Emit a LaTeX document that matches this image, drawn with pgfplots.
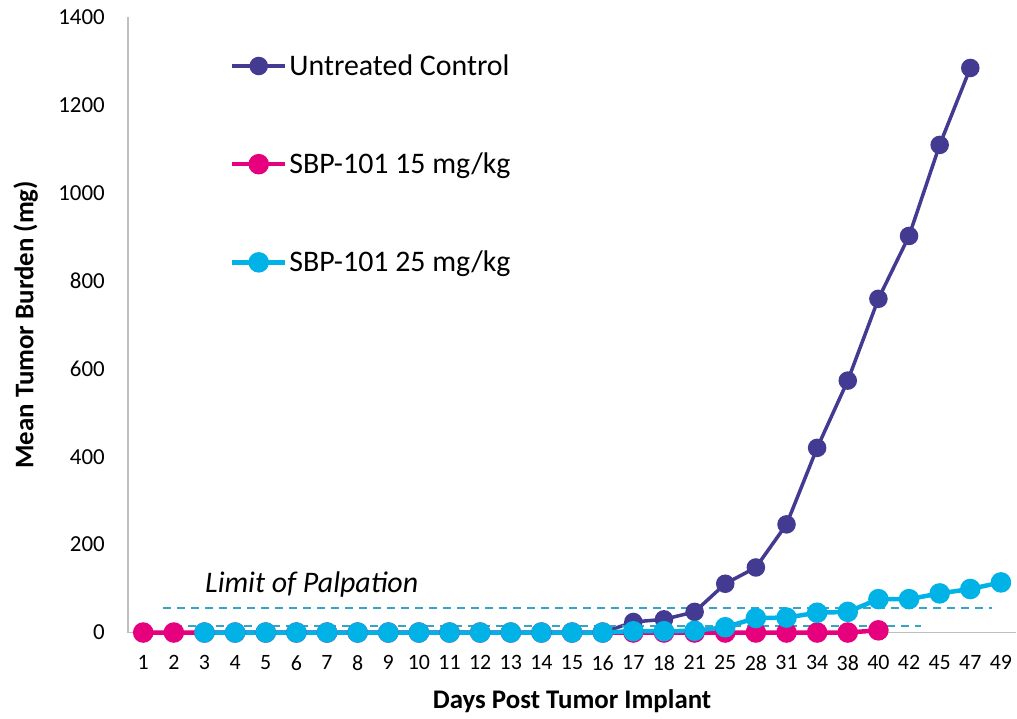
\documentclass[border=0pt]{standalone}
\usepackage{pgfplots}
\pgfplotsset{compat=1.18}
\usepackage{fontspec}
\setmainfont{Carlito}
\definecolor{ctrl}{HTML}{433A91}
\definecolor{low}{HTML}{E6007E}
\definecolor{high}{HTML}{00B2E6}
\definecolor{palp}{HTML}{38A4C4}
\definecolor{axgray}{HTML}{BFBFBF}
\begin{document}
\begin{tikzpicture}
\begin{axis}[
    scale only axis,
    width=889bp, height=616bp,
    xmin=-0.5, xmax=28.5,
    ymin=0, ymax=1400,
    xtick={0,...,28},
    xticklabels={1,2,3,4,5,6,7,8,9,10,11,12,13,14,15,16,17,18,21,25,28,31,34,38,40,42,45,47,49},
    ytick={0,200,...,1400},
    axis x line*=bottom,
    axis y line*=left,
    axis line style={axgray, line width=1.5bp, -},
    major tick length=0pt,
    clip=false,
    /pgf/number format/assume math mode=true,
    /pgf/number format/1000 sep={},
    x tick label style={font=\fontsize{22}{25}\selectfont, anchor=north, inner sep=0pt, yshift=-23bp},
    y tick label style={font=\fontsize{23}{26}\selectfont, anchor=east, inner sep=0pt, xshift=-23bp},
    xlabel={Days Post Tumor Implant},
    ylabel={Mean Tumor Burden (mg)},
    xlabel style={font=\fontsize{27}{30}\selectfont\bfseries, at={(axis description cs:0.5,0)}, anchor=north, inner sep=0pt, yshift=-57bp},
    ylabel style={font=\fontsize{27}{30}\selectfont\bfseries, at={(axis description cs:-0.1012,0.5)}, anchor=south, inner sep=0pt},
    legend style={at={(0.1147,0.942)}, anchor=north west, draw=none, fill=none,
        font=\fontsize{30}{33}\selectfont, row sep=72bp, inner sep=0pt,
        nodes={inner sep=2bp}},
    legend cell align=left,
    legend image code/.code={
        \draw[mark repeat=2, mark phase=2, #1] plot coordinates {(0bp,0bp) (26.5bp,0bp) (53bp,0bp)};
    },
]
\addplot[ctrl, line width=3.5bp, mark=*, mark size=7.5bp, mark options={solid}] coordinates {
    (0,0) (1,0) (2,0) (3,0) (4,0) (5,0) (6,0) (7,0) (8,0) (9,0) (10,0)
    (11,0) (12,0) (13,0) (14,0) (15,0) (16,24) (17,30) (18,47) (19,111)
    (20,148) (21,246) (22,420) (23,573) (24,759) (25,902) (26,1109) (27,1284)};
\addlegendentry{Untreated Control}
\addplot[low, line width=4.5bp, mark=*, mark size=8bp] coordinates {
    (0,0) (1,0) (2,0) (3,0) (4,0) (5,0) (6,0) (7,0) (8,0) (9,0) (10,0)
    (11,0) (12,0) (13,0) (14,0) (15,0) (16,0) (17,0) (18,0) (19,0)
    (20,0) (21,0) (22,0) (23,0) (24,5)};
\addlegendentry{SBP-101 15 mg/kg}
\addplot[high, line width=4.5bp, mark=*, mark size=8bp] coordinates {
    (2,0) (3,0) (4,0) (5,0) (6,0) (7,0) (8,0) (9,0) (10,0)
    (11,0) (12,0) (13,0) (14,0) (15,0) (16,3) (17,3) (18,4) (19,12)
    (20,33) (21,34) (22,45) (23,47) (24,76) (25,76) (26,89) (27,99) (28,114)};
\addlegendentry{SBP-101 25 mg/kg}
\addplot[palp, line width=1.8bp, dash pattern=on 8bp off 6bp, forget plot] coordinates {(0.65,56) (27.7,56)};
\addplot[palp, line width=1.8bp, dash pattern=on 8bp off 6bp, forget plot] coordinates {(1.0,14.5) (25.4,14.5)};
\node[anchor=base, font=\fontsize{30}{34}\selectfont\itshape, inner sep=0pt] at (axis cs:5.5,91) {Limit of Palpation};
\end{axis}
\path (-128bp,-86bp) rectangle (889bp,633bp);
\end{tikzpicture}
\end{document}
